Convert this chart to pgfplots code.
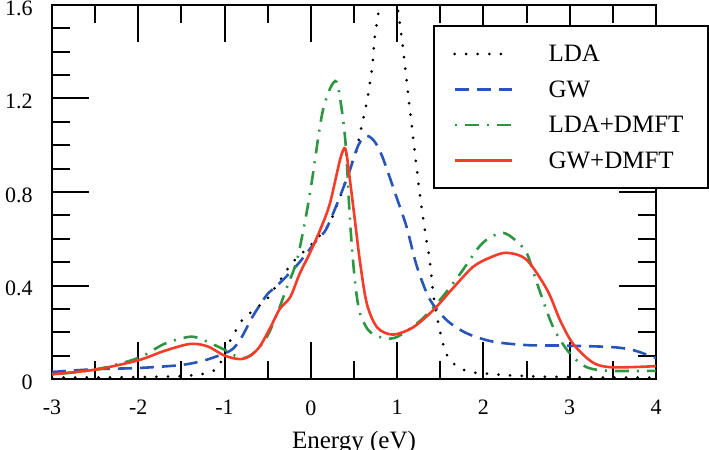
\documentclass[border=0pt]{standalone}
\usepackage{fontspec}
\setmainfont{Liberation Serif}
\usepackage{pgfplots}
\pgfplotsset{compat=1.18}

\definecolor{gwblue}{RGB}{40,85,185}
\definecolor{ldagreen}{RGB}{45,150,65}
\definecolor{gwred}{RGB}{245,60,40}

\begin{document}
\begin{tikzpicture}
\begin{axis}[
  name=ax,
  scale only axis, width=302pt, height=187pt,
  xmin=-3, xmax=4, ymin=0, ymax=1.6,
  xtick={-3,-2,-1,0,1,2,3,4},
  xticklabels={-3,-2,-1,0,1,2,3,4},
  ytick={0,0.4,0.8,1.2,1.6},
  yticklabels={0,0.4,0.8,1.2,1.6},
  minor x tick num=1,
  minor y tick num=3,
  tick align=inside,
  major tick length=18.5pt,
  minor tick length=9pt,
  every tick/.style={black, line width=1pt},
  axis line style={line width=1.3pt},
  tick label style={font=\fontsize{11}{13}\selectfont},
  xticklabel style={inner sep=0pt, anchor=north, yshift=-10.5pt},
  yticklabel style={inner sep=0pt, anchor=east, xshift=-9.5pt, yshift=-1.5pt},
  xlabel={Energy (eV)},
  xlabel style={font=\fontsize{12.5}{14}\selectfont, at={(axis description cs:0.5,0)},
                anchor=north, inner sep=0pt, yshift=-26pt},
  legend style={at={(0.6308,0.9465)}, anchor=north west, draw=black, line width=1pt,
                fill=white, inner xsep=9.5pt, inner ysep=10pt, row sep=9.85pt,
                column sep=0pt, font=\fontsize{12.5}{14}\selectfont,
                nodes={inner sep=0pt, text height=7.9pt, text depth=0pt,
                       text width=70pt, anchor=base west}},
  legend image code/.code={
    \draw[#1] (0pt,3.9pt) -- (28.5pt,3.9pt);
    \path[draw=none, fill=none] (0pt,0pt) rectangle (47pt,7.9pt);},
]

% LDA
\addplot[black, line width=1.5pt, line cap=round, dash pattern=on 0pt off 5.8pt, smooth]
coordinates {
(-3,0.006) (-2.5,0.007) (-2,0.008) (-1.6,0.011) (-1.4,0.015) (-1.2,0.025)
(-1.08,0.048) (-1.0,0.11) (-0.92,0.175) (-0.85,0.22) (-0.79,0.255) (-0.68,0.29)
(-0.59,0.315) (-0.5,0.345) (-0.38,0.41) (-0.21,0.50) (-0.05,0.555) (0.07,0.60)
(0.22,0.67) (0.34,0.78) (0.45,0.90) (0.53,0.98) (0.57,1.05) (0.65,1.19)
(0.71,1.33) (0.74,1.46) (0.78,1.56) (0.84,1.70) (0.90,1.76) (0.96,1.70)
(1.02,1.55) (1.07,1.41) (1.13,1.21) (1.18,1.05) (1.24,0.86) (1.30,0.69)
(1.35,0.57) (1.38,0.50) (1.42,0.36) (1.47,0.25) (1.55,0.125) (1.62,0.08)
(1.69,0.055) (1.84,0.03) (2.08,0.022) (2.34,0.015) (2.7,0.01) (3.2,0.007) (4,0.006)
};
\addlegendentry{LDA}

% GW
\addplot[gwblue, line width=1.3pt, dash pattern=on 7pt off 4pt, smooth]
coordinates {
(-3,0.03) (-2.5,0.042) (-2,0.047) (-1.5,0.06) (-1.23,0.08) (-1.0,0.11)
(-0.9,0.13) (-0.8,0.18) (-0.67,0.27) (-0.51,0.36) (-0.42,0.39) (-0.28,0.44)
(-0.13,0.50) (0.07,0.595) (0.19,0.65) (0.42,0.86) (0.55,1.0) (0.65,1.04)
(0.75,1.01) (0.84,0.94) (1.0,0.77) (1.11,0.65) (1.23,0.48) (1.38,0.34)
(1.58,0.25) (1.81,0.195) (2.11,0.16) (2.5,0.145) (2.89,0.143) (3.47,0.137)
(3.73,0.124) (3.96,0.095) (4.0,0.09)
};
\addlegendentry{GW}

% LDA+DMFT
\addplot[ldagreen, line width=1.3pt, dash pattern=on 1pt off 4pt on 7pt off 4pt, smooth]
coordinates {
(-3,0.02) (-2.5,0.04) (-2,0.09) (-1.7,0.15) (-1.42,0.18) (-1.28,0.172)
(-1.0,0.125) (-0.88,0.10) (-0.77,0.09) (-0.65,0.115) (-0.51,0.18) (-0.39,0.28)
(-0.28,0.39) (-0.16,0.51) (-0.05,0.71) (0.03,0.89) (0.08,1.02) (0.14,1.15)
(0.22,1.24) (0.30,1.27) (0.37,1.12) (0.41,0.97) (0.45,0.70) (0.49,0.50)
(0.53,0.36) (0.57,0.28) (0.63,0.23) (0.69,0.20) (0.84,0.175) (1.0,0.18)
(1.27,0.25) (1.50,0.34) (1.73,0.45) (1.96,0.57) (2.1,0.61) (2.23,0.625)
(2.35,0.60) (2.50,0.54) (2.63,0.40) (2.81,0.22) (3.0,0.11) (3.2,0.05)
(3.47,0.035) (4,0.035)
};
\addlegendentry{LDA+DMFT}

% GW+DMFT
\addplot[gwred, line width=1.3pt, smooth]
coordinates {
(-3,0.02) (-2.5,0.04) (-2,0.08) (-1.7,0.12) (-1.4,0.15) (-1.2,0.14)
(-1.0,0.10) (-0.82,0.085) (-0.7,0.10) (-0.59,0.14) (-0.47,0.22) (-0.36,0.30)
(-0.24,0.35) (-0.13,0.45) (-0.01,0.54) (0.11,0.64) (0.22,0.75) (0.34,0.94)
(0.40,0.985) (0.45,0.86) (0.51,0.68) (0.57,0.50) (0.65,0.32) (0.77,0.22)
(0.95,0.19) (1.18,0.22) (1.42,0.295) (1.65,0.39) (1.88,0.48) (2.08,0.52)
(2.27,0.54) (2.50,0.51) (2.74,0.38) (2.89,0.25) (3.04,0.15) (3.27,0.07)
(3.5,0.05) (4.0,0.055)
};
\addlegendentry{GW+DMFT}

\end{axis}
\pgfresetboundingbox
\path (ax.south west) ++(-26pt,-35pt) rectangle ([xshift=26.5pt,yshift=2.5pt]ax.north east);
\end{tikzpicture}
\end{document}
